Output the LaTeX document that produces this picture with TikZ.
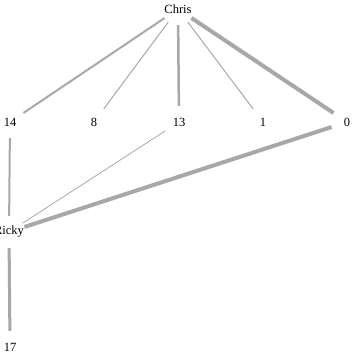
\documentclass[tikz,border=0pt]{standalone}
\usepackage{fontspec}
\setmainfont{Liberation Serif}
\definecolor{edgegray}{HTML}{A8A8A8}
\begin{document}
\begin{tikzpicture}[x=1pt,y=-1pt,
  vtx/.style={circle,inner sep=0pt,minimum size=32pt,font=\fontsize{12.5}{14}\selectfont},
  edge/.style={draw=edgegray}]
\useasboundingbox (0,0) rectangle (353,355);
\node[vtx] (chris) at (178,9) {Chris};
\node[vtx] (n14) at (10,122) {14};
\node[vtx] (n8) at (94,122) {8};
\node[vtx] (n13) at (179,122) {13};
\node[vtx] (n1) at (263,122) {1};
\node[vtx] (n0) at (347,122) {0};
\node[vtx] (ricky) at (9,232) {Ricky};
\node[vtx] (n17) at (10,347) {17};
\draw[edge,line width=2pt] (chris) -- (n14);
\draw[edge,line width=1pt] (chris) -- (n8);
\draw[edge,line width=2.5pt] (chris) -- (n13);
\draw[edge,line width=1pt] (chris) -- (n1);
\draw[edge,line width=4pt] (chris) -- (n0);
\draw[edge,line width=2pt] (n14) -- (ricky);
\draw[edge,line width=0.8pt] (n13) -- (ricky);
\draw[edge,line width=4pt] (n0) -- (ricky);
\draw[edge,line width=3pt] (ricky) -- (n17);
\end{tikzpicture}
\end{document}
